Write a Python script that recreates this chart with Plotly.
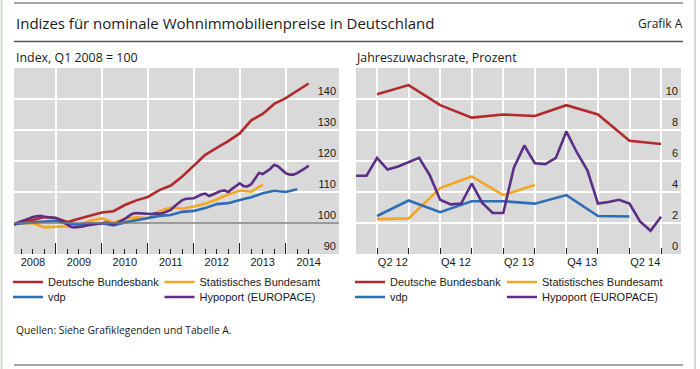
import plotly.graph_objects as go

# ---------------- DATA ----------------
# Left panel: index levels (Q1 2008 = 100), quarterly series at quarter end
q_left = ["2007Q4", "2008Q1", "2008Q2", "2008Q3", "2008Q4", "2009Q1", "2009Q2", "2009Q3", "2009Q4",
          "2010Q1", "2010Q2", "2010Q3", "2010Q4", "2011Q1", "2011Q2", "2011Q3", "2011Q4",
          "2012Q1", "2012Q2", "2012Q3", "2012Q4", "2013Q1", "2013Q2", "2013Q3", "2013Q4",
          "2014Q1", "2014Q2"]
bundesbank_idx = [99.3, 100.0, 101.0, 101.9, 101.6, 100.3, 101.4, 102.5, 103.4,
                  103.8, 105.8, 107.3, 108.4, 110.6, 112.1, 115.0, 118.5,
                  122.0, 124.2, 126.4, 128.9, 133.1, 135.2, 138.4, 140.3,
                  142.7, 145.0]
destatis_idx = [99.6, 100.0, 99.9, 98.6, 98.8, 98.9, 99.4, 100.7, 101.5,
                100.2, 101.4, 101.8, 101.5, 103.8, 105.0, 104.6, 105.3,
                106.2, 107.6, 109.2, 110.5, 110.1, 112.4]
vdp_idx = [99.6, 100.0, 100.2, 100.5, 100.7, 99.8, 99.6, 99.8, 99.9,
           99.2, 100.2, 100.9, 101.5, 102.3, 102.6, 103.6, 103.9,
           104.8, 106.1, 106.4, 107.4, 108.3, 109.6, 110.4, 110.0,
           110.9]
# Hypoport monthly, Jan 2008 .. Jun 2014
hypoport_idx = [99.6, 100.2, 100.6, 101.0, 101.5, 101.9, 102.2, 102.3, 102.0, 101.9, 101.8, 101.6,
                101.0, 100.3, 99.5, 98.7, 98.6, 98.7, 98.9, 99.2, 99.4, 99.6, 99.8, 100.1,
                100.1, 99.9, 99.6, 100.0, 100.6, 101.3, 102.2, 103.0, 103.2, 103.1, 103.0, 103.0,
                102.9, 103.1, 103.0, 103.2, 103.6, 104.2, 105.4, 106.5, 107.4, 107.8, 107.9, 108.0,
                108.6, 109.2, 109.5, 108.7, 109.2, 109.8, 110.3, 110.5, 110.0, 111.0, 112.0, 112.8,
                111.9, 111.8, 112.5, 114.5, 116.1, 115.8, 116.6, 117.5, 118.8, 118.3, 117.2, 116.1,
                115.6, 115.6, 116.1, 116.8, 117.6, 118.5]
hypoport_start = (2008, 1)

# Right panel: annual growth rates (%)
q_right = ["2012Q1", "2012Q2", "2012Q3", "2012Q4", "2013Q1", "2013Q2", "2013Q3", "2013Q4", "2014Q1", "2014Q2"]
bundesbank_yoy = [10.3, 10.9, 9.6, 8.8, 9.0, 8.9, 9.6, 9.0, 7.3, 7.1]
destatis_yoy = [2.25, 2.3, 4.25, 5.0, 3.8, 4.45]
vdp_yoy = [2.45, 3.45, 2.7, 3.4, 3.4, 3.25, 3.8, 2.45, 2.42]
# Hypoport monthly, Jan 2012 .. Jun 2014
hypoport_yoy = [5.05, 5.05, 6.2, 5.45, 5.65, 5.9, 6.2, 5.1, 3.5, 3.2, 3.25, 4.55,
                3.3, 2.65, 2.65, 5.55, 7.0, 5.85, 5.8, 6.2, 7.9, 6.55, 5.4, 3.25,
                3.35, 3.5, 3.25, 2.1, 1.5, 2.4]
hypoport_yoy_start = (2012, 1)

years = ["2008", "2009", "2010", "2011", "2012", "2013", "2014"]
q_label_quarters = ["2012Q2", "2012Q4", "2013Q2", "2013Q4", "2014Q2"]
q_labels = ["Q2 12", "Q4 12", "Q2 13", "Q4 13", "Q2 14"]
left_yticks = [90, 100, 110, 120, 130, 140]
right_yticks = [0, 2, 4, 6, 8, 10]

names = ["Deutsche Bundesbank", "Statistisches Bundesamt", "vdp", "Hypoport (EUROPACE)"]
colors = ["#b12a2c", "#f4a623", "#2f6db5", "#5c2e86"]


# --------------- helpers ---------------
def qpos(lbl):
    y, q = lbl.split("Q")
    return int(y) + int(q) / 4.0


def mpos(start, n):
    y, m = start
    out = []
    for i in range(n):
        mm = m + i
        out.append(y + (mm - 1) // 12 + (((mm - 1) % 12) + 1) / 12.0)
    return out


xl = [qpos(q) for q in q_left]
xr = [qpos(q) for q in q_right]

fig = go.Figure()

left_series = [
    (xl[:len(bundesbank_idx)], bundesbank_idx),
    (xl[:len(destatis_idx)], destatis_idx),
    (xl[:len(vdp_idx)], vdp_idx),
    (mpos(hypoport_start, len(hypoport_idx)), hypoport_idx),
]
right_series = [
    (xr[:len(bundesbank_yoy)], bundesbank_yoy),
    (xr[:len(destatis_yoy)], destatis_yoy),
    (xr[:len(vdp_yoy)], vdp_yoy),
    (mpos(hypoport_yoy_start, len(hypoport_yoy)), hypoport_yoy),
]

legend_cols = [0, 1, 0, 1]
legend_rows = [0, 0, 1, 1]

for i, (x, y) in enumerate(left_series):
    fig.add_trace(go.Scatter(x=x, y=y, mode="lines", name=names[i],
                             line=dict(color=colors[i], width=2.6),
                             xaxis="x", yaxis="y",
                             legend="legend" if i == 0 else f"legend{i + 1}"))
for i, (x, y) in enumerate(right_series):
    fig.add_trace(go.Scatter(x=x, y=y, mode="lines", name=names[i],
                             line=dict(color=colors[i], width=2.6),
                             xaxis="x2", yaxis="y2",
                             legend=f"legend{i + 5}"))

W, H = 700, 369
tick_font = dict(family="Liberation Sans, Arial", size=11, color="#1a1a1a")
txt_font = "Open Sans, Noto Sans, sans-serif"

left_dom = [14 / W, 339 / W]
right_dom = [356 / W, 681 / W]
ydom = [1 - 254 / H, 1 - 68 / H]

xl_range = [2008 + 1 / 12 + 0.005, 2015.16]
xr_range = [2012 + 1 / 12, 2014.658]

year_bounds = list(range(2009, 2015))
# short quarter ticks (all quarter ends that are not year boundaries); the mid-year ones carry the year labels
quarter_ticks = [2008.25 + 0.25 * k for k in range(26) if (2008.25 + 0.25 * k) % 1 != 0]
quarter_text = [str(int(v)) if (v % 1) == 0.5 else "" for v in quarter_ticks]
q_mid = [qpos(q) - 0.125 for q in q_label_quarters]

layout = dict(
    width=W, height=H,
    margin=dict(l=0, r=0, t=0, b=0),
    paper_bgcolor="white",
    plot_bgcolor="#d9d9d9",
    xaxis=dict(domain=left_dom, range=xl_range, anchor="y",
               tickmode="array", tickvals=quarter_ticks, ticktext=quarter_text,
               ticks="inside", ticklen=5, tickwidth=1, tickcolor="#222",
               showgrid=False, zeroline=False, tickfont=tick_font,
               minor=dict(tickmode="array", tickvals=year_bounds, ticks="inside",
                          ticklen=11, tickwidth=1, tickcolor="#222",
                          showgrid=True, gridcolor="white", gridwidth=1.6)),
    yaxis=dict(domain=ydom, range=[90, 150], anchor="x", side="right",
               tickmode="array", tickvals=left_yticks, ticklabelposition="inside top",
               showgrid=True, gridcolor="white", gridwidth=1.6, zeroline=False,
               ticks="", tickfont=tick_font),
    xaxis2=dict(domain=right_dom, range=xr_range, anchor="y2",
                tickmode="array", tickvals=q_mid, ticktext=q_labels, ticks="",
                showgrid=False, zeroline=False, tickfont=tick_font,
                minor=dict(tickmode="array", tickvals=xr, ticks="inside",
                           ticklen=6, tickwidth=1, tickcolor="#222",
                           showgrid=True, gridcolor="white", gridwidth=1.6)),
    yaxis2=dict(domain=ydom, range=[0, 12], anchor="x2", side="right",
                tickmode="array", tickvals=right_yticks, ticklabelposition="inside top",
                showgrid=True, gridcolor="white", gridwidth=1.6, zeroline=False,
                ticks="", tickfont=tick_font),
    showlegend=True,
)

text_x = {("L", 0): 50, ("L", 1): 201.5, ("R", 0): 392, ("R", 1): 544}
row_y = [282, 297]
for i in range(8):
    side = "L" if i < 4 else "R"
    k = i % 4
    key = "legend" if i == 0 else f"legend{i + 1}"
    layout[key] = dict(x=(text_x[(side, legend_cols[k])] - 42) / W,
                       y=1 - row_y[legend_rows[k]] / H,
                       xanchor="left", yanchor="middle",
                       bgcolor="rgba(0,0,0,0)", borderwidth=0,
                       font=dict(family="Liberation Sans, Arial", size=11, color="#1a1a1a"),
                       itemwidth=30)

fig.update_layout(**layout)

fig.add_shape(type="line", xref="x domain", yref="y", x0=0, x1=1, y0=100, y1=100,
              line=dict(color="#7a7a7a", width=1.6))

rules = [(3, "#8a8a8a", 1.3), (41.5, "#555555", 1.5), (365, "#8a8a8a", 1.3)]
for yy, c, w in rules:
    fig.add_shape(type="line", xref="paper", yref="paper", x0=14 / W, x1=683 / W,
                  y0=1 - yy / H, y1=1 - yy / H, line=dict(color=c, width=w))
for xx in [1.5, 695]:
    fig.add_shape(type="line", xref="paper", yref="paper", x0=xx / W, x1=xx / W,
                  y0=0, y1=1, line=dict(color="#d3d9d3", width=2))

annots = [
    ("Indizes für nominale Wohnimmobilienpreise in Deutschland", 14, 23, 15, "left"),
    ("Grafik A", 685, 23, 12, "right"),
    ("Index, Q1 2008 = 100", 14, 57.5, 12.4, "left"),
    ("Jahreszuwachsrate, Prozent", 354, 57.5, 12.4, "left"),
    ("Quellen: Siehe Grafiklegenden und Tabelle A.", 14, 330, 10.3, "left"),
]
for t, xx, yy, s, anc in annots:
    fig.add_annotation(text=t, xref="paper", yref="paper", x=xx / W, y=1 - yy / H,
                       xanchor=anc, yanchor="middle", showarrow=False,
                       font=dict(family=txt_font, size=s, color="#1a1a1a"))

fig.write_html("out.html", post_script="document.body.style.margin='0px';",
               config={"displayModeBar": False, "responsive": False})
